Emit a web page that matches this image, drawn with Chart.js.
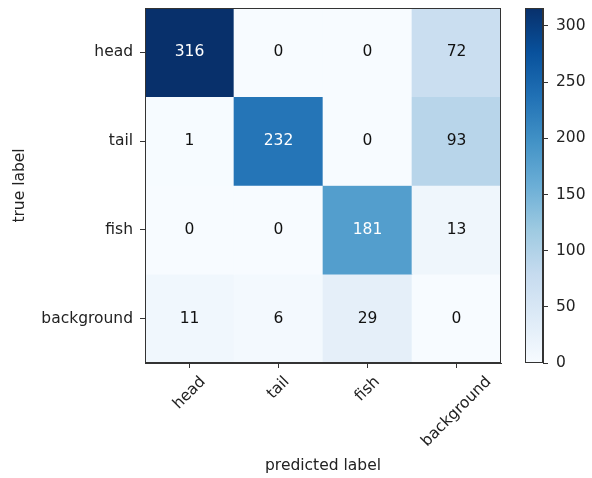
<!DOCTYPE html>
<html>
<head>
<meta charset="utf-8">
<script src="https://cdn.jsdelivr.net/npm/chart.js@4/dist/chart.umd.min.js"></script>
<style>
  body { margin: 0; background: #fff; }
  #wrap { position: relative; width: 592px; height: 478px; }
  canvas { position: absolute; top: 0; }
</style>
</head>
<body>
<div id="wrap">
  <canvas id="cm" width="515" height="478" style="left:0"></canvas>
  <canvas id="cbar" width="77" height="478" style="left:515px"></canvas>
</div>
<script>
// classes, used for both axes
const classes = ['head', 'tail', 'fish', 'background'];

// confusion matrix rows (true label), columns are predicted label
const headRow = [316, 0, 0, 72];
const tailRow = [1, 232, 0, 93];
const fishRow = [0, 0, 181, 13];
const backgroundRow = [11, 6, 29, 0];
const matrix = [headRow, tailRow, fishRow, backgroundRow];

// colorbar ticks
const cbarTicks = [0, 50, 100, 150, 200, 250, 300];

const vmax = Math.max(...matrix.flat());

// matplotlib "Blues"
const blues = ['#f7fbff', '#deebf7', '#c6dbef', '#9ecae1', '#6baed6', '#4292c6', '#2171b5', '#08519c', '#08306b'];

const hexToRgb = h => [1, 3, 5].map(i => parseInt(h.substr(i, 2), 16));
const bluesColor = t => {
  t = Math.min(1, Math.max(0, t));
  const pos = t * (blues.length - 1);
  const i = Math.min(Math.floor(pos), blues.length - 2);
  const f = pos - i;
  const a = hexToRgb(blues[i]), b = hexToRgb(blues[i + 1]);
  const c = a.map((v, k) => Math.round(v + (b[k] - v) * f));
  return `rgb(${c[0]}, ${c[1]}, ${c[2]})`;
};

const fontSpec = { family: 'DejaVu Sans', size: 15.5 };
const textColor = '#222';
const lineColor = '#333';
const fontCss = `${fontSpec.size}px "${fontSpec.family}"`;

// drop the label overflow margins chart.js adds at the axis ends
const noEndPadding = s => { s.paddingTop = 0; s.paddingBottom = 0; s.paddingLeft = 0; s.paddingRight = 0; };

// box round the plotting area
const frame = {
  id: 'frame',
  afterDraw(chart) {
    const a = chart.chartArea, ctx = chart.ctx;
    ctx.save();
    ctx.strokeStyle = lineColor;
    ctx.lineWidth = 1;
    ctx.strokeRect(Math.round(a.left) + 0.5, Math.round(a.top) + 0.5,
      Math.round(a.right - a.left) - 1, Math.round(a.bottom - a.top) - 1);
    ctx.restore();
  }
};

// numbers inside cells
const cellText = {
  id: 'cellText',
  afterDatasetsDraw(chart) {
    const ctx = chart.ctx;
    ctx.save();
    ctx.font = fontCss;
    ctx.textAlign = 'center';
    ctx.textBaseline = 'middle';
    chart.data.datasets.forEach((ds, r) => {
      chart.getDatasetMeta(r).data.forEach((bar, c) => {
        const v = matrix[r][c];
        ctx.fillStyle = v > vmax / 2 ? '#fff' : '#111';
        ctx.fillText(String(v), bar.x, (bar.y + bar.base) / 2);
      });
    });
    ctx.restore();
  }
};

// x tick labels rotated 45deg, centred under the tick (matplotlib style)
const xLabels = {
  id: 'xLabels',
  afterDraw(chart) {
    const sc = chart.scales.x, ctx = chart.ctx;
    const h = fontSpec.size * 1.16;
    ctx.save();
    ctx.font = fontCss;
    ctx.fillStyle = textColor;
    ctx.textAlign = 'center';
    ctx.textBaseline = 'middle';
    classes.forEach((lab, i) => {
      const w = ctx.measureText(lab).width;
      const side = (w + h) * Math.SQRT1_2;
      const x = sc.getPixelForTick(i);
      const y = sc.top + 10 + side / 2;
      ctx.save();
      ctx.translate(x, y);
      ctx.rotate(-Math.PI / 4);
      ctx.fillText(lab, 0, 0);
      ctx.restore();
    });
    ctx.restore();
  }
};

const datasets = matrix.map((row, r) => ({
  label: classes[r],
  data: row.map(() => [r - 0.5, r + 0.5]),
  backgroundColor: row.map(v => bluesColor(v / vmax)),
  borderWidth: 0,
  barPercentage: 1,
  categoryPercentage: 1,
  grouped: false
}));

new Chart(document.getElementById('cm'), {
  type: 'bar',
  data: { labels: classes, datasets: datasets },
  options: {
    responsive: false,
    animation: false,
    layout: { padding: { left: 8, top: 8, right: 14, bottom: 0 } },
    plugins: { legend: { display: false }, tooltip: { enabled: false } },
    scales: {
      x: {
        grid: { display: true, drawOnChartArea: false, offset: false, tickLength: 5, color: lineColor },
        border: { color: lineColor },
        ticks: { display: false },
        title: { display: true, text: 'predicted label', font: fontSpec, color: textColor, padding: { top: 4, bottom: 3 } },
        afterFit: s => { s.height = 115; noEndPadding(s); }
      },
      y: {
        reverse: true,
        min: -0.5,
        max: 3.5,
        afterBuildTicks: s => { s.ticks = classes.map((_, i) => ({ value: i })); },
        grid: { display: true, drawOnChartArea: false, tickLength: 5, color: lineColor },
        border: { color: lineColor },
        ticks: { font: fontSpec, color: textColor, padding: 7, callback: v => classes[v] },
        title: { display: true, text: 'true label', font: fontSpec, color: textColor, padding: { top: 3, bottom: 4 } },
        afterFit: s => { s.width = 137; noEndPadding(s); }
      }
    }
  },
  plugins: [frame, cellText, xLabels]
});

// colorbar
new Chart(document.getElementById('cbar'), {
  type: 'bar',
  data: {
    labels: [''],
    datasets: [{
      data: [[0, vmax]],
      borderWidth: 0,
      barPercentage: 1,
      categoryPercentage: 1,
      backgroundColor: ctx => {
        const a = ctx.chart.chartArea;
        if (!a) return blues[4];
        const g = ctx.chart.ctx.createLinearGradient(0, a.bottom, 0, a.top);
        blues.forEach((c, i) => g.addColorStop(i / (blues.length - 1), c));
        return g;
      }
    }]
  },
  options: {
    responsive: false,
    animation: false,
    layout: { padding: { left: 10, top: 8, right: 0, bottom: 115 } },
    plugins: { legend: { display: false }, tooltip: { enabled: false } },
    scales: {
      x: { display: false },
      y: {
        position: 'right',
        min: 0,
        max: vmax,
        afterBuildTicks: s => { s.ticks = cbarTicks.map(v => ({ value: v })); },
        grid: { display: true, drawOnChartArea: false, tickLength: 5, color: lineColor },
        border: { color: lineColor },
        ticks: { font: fontSpec, color: textColor, padding: 8 },
        afterFit: s => { s.width = 49; noEndPadding(s); }
      }
    }
  },
  plugins: [frame]
});
</script>
</body>
</html>
